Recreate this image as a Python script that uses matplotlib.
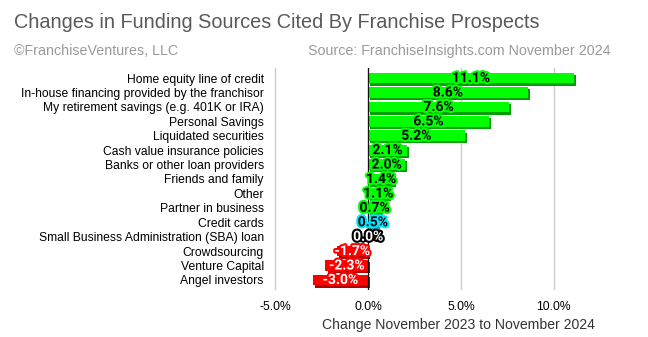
import matplotlib
matplotlib.use("Agg")
import matplotlib.pyplot as plt
import matplotlib.patheffects as pe
import numpy as np

# data
categories = ["Home equity line of credit",
              "In-house financing provided by the franchisor",
              "My retirement savings (e.g. 401K or IRA)",
              "Personal Savings",
              "Liquidated securities",
              "Cash value insurance policies",
              "Banks or other loan providers",
              "Friends and family",
              "Other",
              "Partner in business",
              "Credit cards",
              "Small Business Administration (SBA) loan",
              "Crowdsourcing",
              "Venture Capital",
              "Angel investors"]
values = [11.1, 8.6, 7.6, 6.5, 5.2, 2.1, 2.0, 1.4, 1.1, 0.7, 0.5, 0.0, -1.7, -2.3, -3.0]
xticks = [-5, 0, 5, 10]

def colours(v):
    # bar colour, shadow colour, text colour, outline colour
    if v < 0:
        return "#ff0000", "#b00000", "white", "#ff0000"
    if v == 0:
        return "#000000", "#000000", "white", "#000000"
    if v < 0.6:
        return "#00e5ff", "#00a0b0", "black", "#00e5ff"
    return "#00ff00", "#00a000", "black", "#00ff00"

fig = plt.figure(figsize=(6.48, 3.37), dpi=100)
ax = fig.add_axes([268/648, 1-290/337, (600-268)/648, (290-68)/337])

y = np.arange(len(categories))
for i, v in enumerate(values):
    bc, sc, tc, oc = colours(v)
    b = ax.barh(y[i], v, height=0.75, color=bc, zorder=3)
    for p in b:
        p.set_path_effects([pe.SimplePatchShadow(offset=(1.6, -1.6), shadow_rgbFace=sc, alpha=1),
                            pe.Normal()])
    t = ax.text(v/2, y[i], f"{v:.1f}%", ha="center", va="center", color=tc,
                fontsize=10, fontweight="bold", family="Roboto", zorder=5)
    t.set_path_effects([pe.withStroke(linewidth=3, foreground=oc)])

ax.set_xlim(-5.4, 12.5)
ax.set_ylim(len(categories)-0.3, -0.7)
ax.set_yticks(y)
ax.set_yticklabels(categories, family="Liberation Sans", fontsize=8.7)
ax.set_xticks(xticks)
ax.set_xticklabels([f"{t:.1f}%" for t in xticks], family="Liberation Sans", fontsize=8.7)
ax.tick_params(length=0, axis="y", pad=3)
ax.tick_params(length=0, axis="x", pad=8)
ax.grid(axis="x", color="#cccccc", linewidth=1, zorder=0)
ax.axvline(0, color="#111111", linewidth=0.9, zorder=4)
for s in ax.spines.values():
    s.set_visible(False)

fig.text(14/648, 1-23/337, "Changes in Funding Sources Cited By Franchise Prospects",
         family="Liberation Sans", fontsize=14.3, color="#595959", va="center")
fig.text(14/648, 1-51/337, "©FranchiseVentures, LLC", family="Liberation Sans",
         fontsize=10.3, color="#9a9a9a", va="center")
fig.text(610/648, 1-51/337, "Source: FranchiseInsights.com November 2024",
         family="Liberation Sans", fontsize=10.3, color="#9a9a9a", va="center", ha="right")
fig.text(458/648, 1-325/337, "Change November 2023 to November 2024",
         family="Liberation Sans", fontsize=10.1, color="#333333", va="center", ha="center")

fig.savefig("out.png", dpi=100)
